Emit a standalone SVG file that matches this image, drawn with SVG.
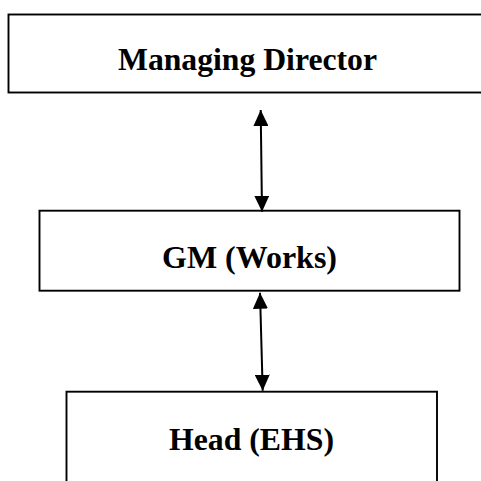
<svg xmlns="http://www.w3.org/2000/svg" width="481" height="481" viewBox="0 0 481 481">
<style>
.box{fill:#fff;stroke:#000;stroke-width:1.9}
.lbl{font-family:"Liberation Serif","Times New Roman",serif;font-weight:bold;font-size:31px;fill:#000;text-anchor:middle}
.conn{stroke:#000;stroke-width:2;fill:none}
</style>
<defs>
<marker id="ah" viewBox="0 0 16 15" refX="16" refY="7.5" markerWidth="16" markerHeight="15" markerUnits="userSpaceOnUse" orient="auto-start-reverse">
<path d="M0,0 L16,7.5 L0,15 Z" fill="#000"/>
</marker>
</defs>
<rect width="481" height="481" fill="#fff"/>
<g id="node-md">
<rect class="box" x="8.5" y="14.5" width="480" height="78"/>
<text class="lbl" x="247.5" y="69.5" textLength="259" lengthAdjust="spacingAndGlyphs">Managing Director</text>
</g>
<g id="node-gm">
<rect class="box" x="39.5" y="210.7" width="420" height="80"/>
<text class="lbl" x="249.5" y="267.5" textLength="175" lengthAdjust="spacingAndGlyphs">GM (Works)</text>
</g>
<g id="node-head">
<rect class="box" x="66.5" y="391.7" width="370.5" height="100"/>
<text class="lbl" x="251.5" y="449.5" textLength="165" lengthAdjust="spacingAndGlyphs">Head (EHS)</text>
</g>
<g id="connectors">
<line class="conn" x1="260.7" y1="110" x2="262" y2="211.7" marker-start="url(#ah)" marker-end="url(#ah)"/>
<line class="conn" x1="260" y1="292.7" x2="262.7" y2="390.7" marker-start="url(#ah)" marker-end="url(#ah)"/>
</g>
</svg>
